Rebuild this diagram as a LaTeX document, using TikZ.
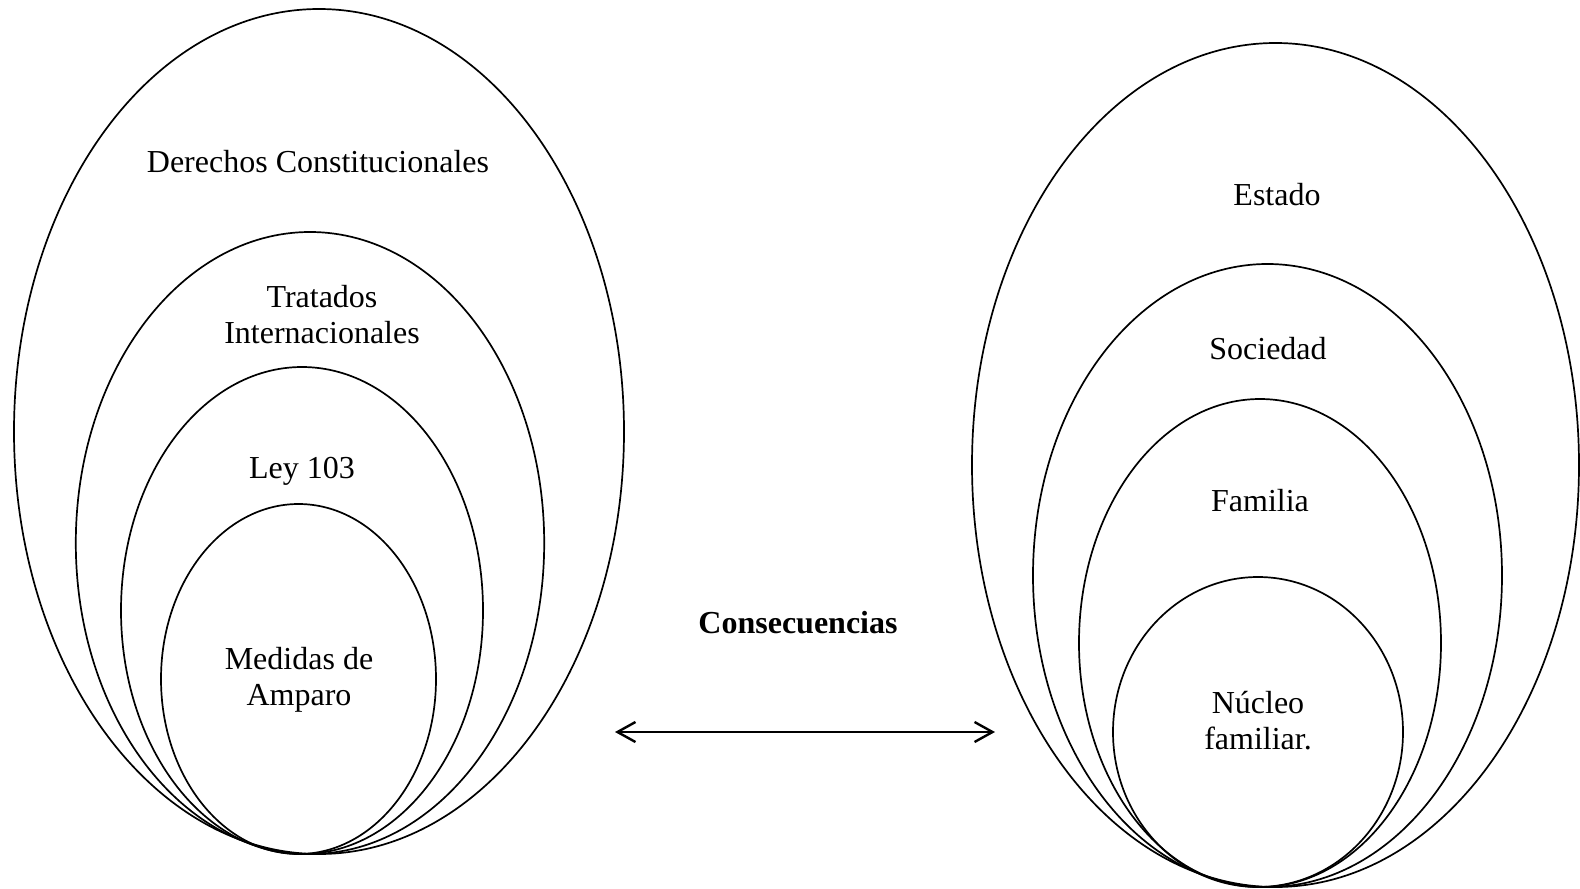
\documentclass[tikz,border=0pt]{standalone}
\usepackage{fontspec}
\setmainfont{Liberation Serif}
\usetikzlibrary{shapes.geometric,arrows.meta}
\begin{document}
\begin{tikzpicture}[x=0.5pt,y=-0.5pt,
  ring/.style={draw, ellipse, line width=0.85pt, inner sep=0pt, outer sep=0pt},
  lbl/.style={anchor=base, align=center, font=\fontsize{16pt}{18pt}\selectfont, inner sep=0pt},
  both/.style={line width=1.2pt, arrows={Straight Barb[length=9pt,width=10pt]-Straight Barb[length=9pt,width=10pt]}}]
\useasboundingbox (0,0) rectangle (1580,889);
% left group
\node[ring, minimum width=305pt, minimum height=422.5pt] (L1) at (319,431.5) {};
\node[ring, minimum width=234.2pt, minimum height=311pt] (L2) at (310,543) {};
\node[ring, minimum width=181pt, minimum height=243.5pt] (L3) at (302,610.5) {};
\node[ring, minimum width=137.5pt, minimum height=175pt] (L4) at (298.5,679) {};
% right group
\node[ring, minimum width=303.5pt, minimum height=422pt] (R1) at (1275.5,465) {};
\node[ring, minimum width=234.5pt, minimum height=311.5pt] (R2) at (1267.5,575.5) {};
\node[ring, minimum width=181pt, minimum height=244pt] (R3) at (1260,643) {};
\node[ring, minimum width=145pt, minimum height=155pt] (R4) at (1258,732) {};
% labels
\node[lbl] (t1) at (318,172) {Derechos Constitucionales};
\node[lbl] (t2) at (322,343) {Tratados\\Internacionales};
\node[lbl] (t3) at (302,478) {Ley 103};
\node[lbl] (t4) at (299,705) {Medidas de\\Amparo};
\node[lbl] (s1) at (1277,205) {Estado};
\node[lbl] (s2) at (1268,359) {Sociedad};
\node[lbl] (s3) at (1260,511) {Familia};
\node[lbl] (s4) at (1258,749) {Núcleo\\familiar.};
\node[lbl, font=\fontsize{16pt}{18pt}\selectfont\bfseries] (c) at (798,633) {Consecuencias};
% arrow
\coordinate (a1) at (615,732);
\coordinate (a2) at (995,732);
\draw[both] (a1) -- (a2);
\end{tikzpicture}
\end{document}
